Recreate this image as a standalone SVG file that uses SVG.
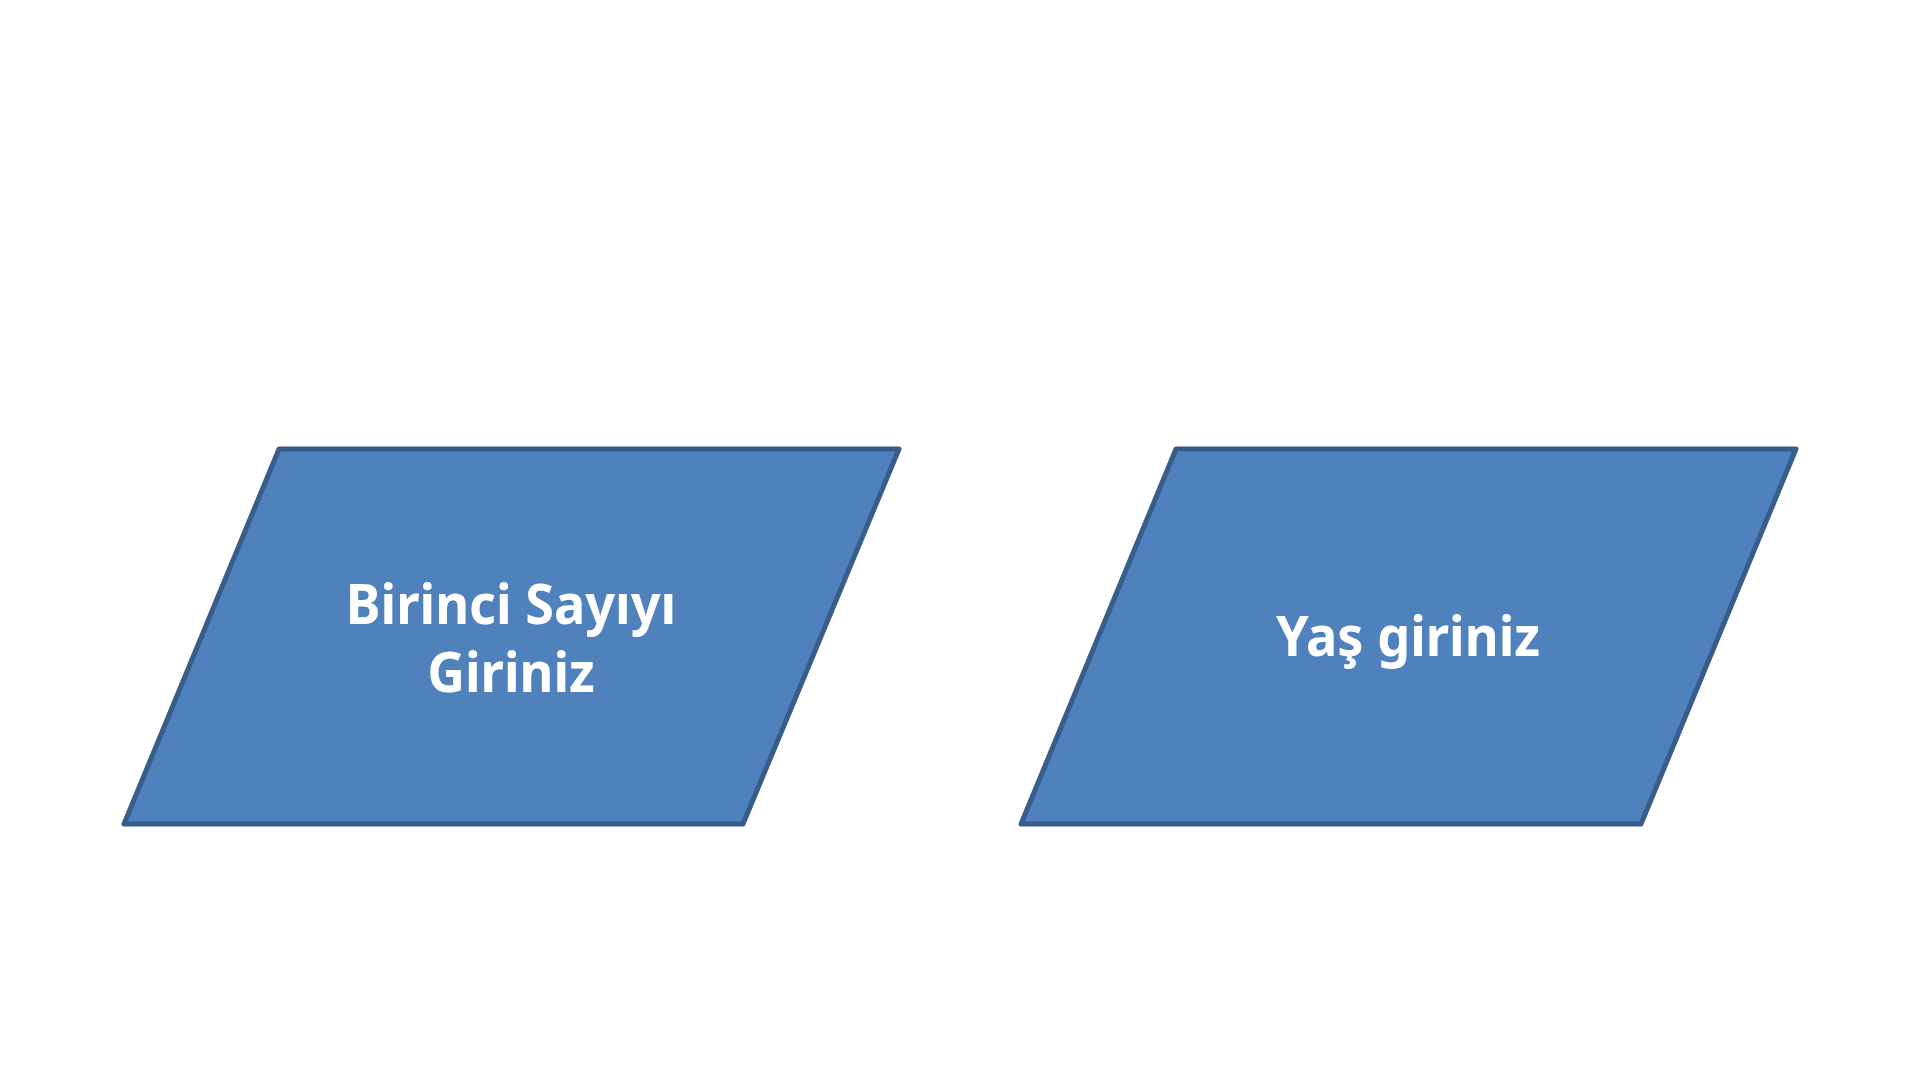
<svg xmlns="http://www.w3.org/2000/svg" width="1920" height="1080" viewBox="0 0 1920 1080">
<style>
.shape{fill:#4F81BD;stroke:#385D8A;stroke-width:5;stroke-linejoin:round}
.lbl{font-family:"Noto Sans","Open Sans",sans-serif;font-weight:bold;font-size:55px;fill:#FFFFFF;text-anchor:middle}
</style>
<rect width="1920" height="1080" fill="#FFFFFF"/>
<g id="connectors"></g>
<g id="node1">
<polygon class="shape" points="279,449 899,449 743,824 124,824"/>
<g transform="translate(511,0) scale(0.95,1)">
<text class="lbl" x="0" y="624">Birinci Sayıyı</text>
<text class="lbl" x="0" y="692">Giriniz</text>
</g>
</g>
<g id="node2">
<polygon class="shape" points="1176,449 1796,449 1641,824 1021,824"/>
<g transform="translate(1408,0) scale(0.95,1)">
<text class="lbl" x="0" y="656">Yaş giriniz</text>
</g>
</g>
</svg>
